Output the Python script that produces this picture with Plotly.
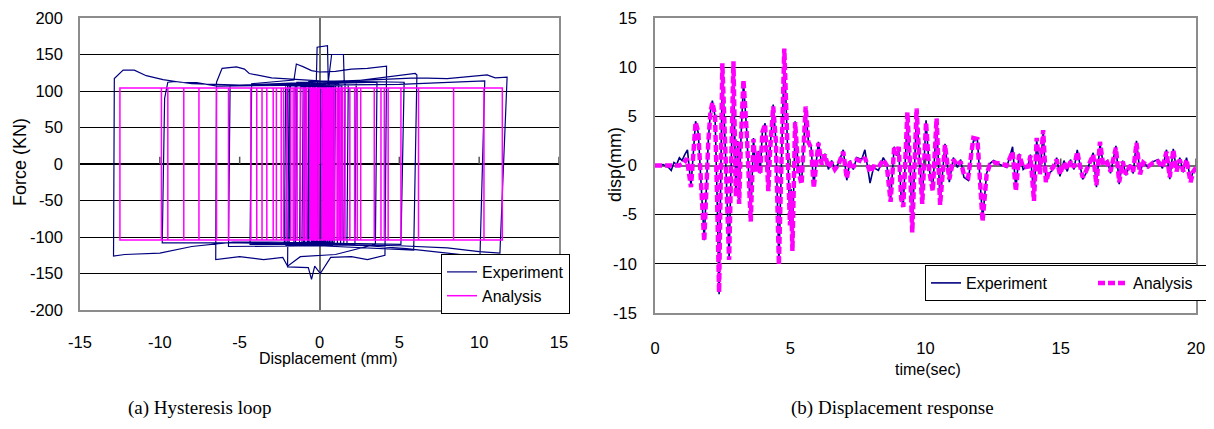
import plotly.graph_objects as go

NAVY = "#000080"
MAGENTA = "#FF00FF"
# the page body has an 8px margin, so the figure is drawn 16px smaller
PAGE_W, PAGE_H, BODY = 1214, 429, 8
W, H = PAGE_W - 2 * BODY, PAGE_H - 2 * BODY

# ---- (a) hysteresis loop -------------------------------------------------
# analysis: reversal displacements (mm), alternating max / min, yield force (kN)
ana_rev = [0.35, -0.45, 0.7, -0.9, 1.1, -1.4, 2.2, -2.05, 4.3, -6.45,
           3.85, -5.7, 6.2, -12.5, 10.3, -9.5, 11.45, -9.9, 8.4, -8.5,
           5.1, -7.55, 4.06, -4.3, 3.43, -3.3, 2.58, -3.93, 2.37, -2.7,
           1.9, -2.4, 1.6, -1.8, 1.35, -1.55, 1.15, -1.2, 0.95, -1.0,
           0.8, -0.8, 0.65, -0.6, 0.55, -0.5, 0.45, -0.4, 0.35, -0.3,
           0.25, -0.2, 0.6, -0.55, 0.15, -0.1, 0.5, -0.35, 0.3, -0.25,
           1.45, -3.6, 1.25, -2.9, 0.9, -2.25, 0.75, -1.65, 0.4, -0.05]
ana_fy = 104

# experiment: small central cycles (reversals + plateau force levels)
exp_core_rev = [0.4, -0.5, 0.75, -1.0, 1.2, -1.5, 2.3, -2.2, 1.8, -1.9,
                1.4, -1.6, 1.0, -1.25, 0.85, -0.95, 0.7, -0.75, 0.55, -0.65,
                0.45, -0.5, 0.35, -0.35, 0.2, -0.15, 0.6, -0.4, 0.1, -0.2,
                1.6, -1.1, 0.9, -0.7, 0.3, -2.1]
exp_core_lev = [105, 106, 108, 107, 110, 109, 112, 110, 108, 111,
                107, 109, 110, 108, 106, 112, 108, 110, 113, 109,
                107, 111, 109, 112, 106, 108, 110, 109, 107, 111,
                112, 110, 108, 112, 109, 111]

# experiment: large cycles, path vertices (mm, kN)
exp_big_d = [-2.0, 0.0, 2.0, 3.6, 3.5, 1.0, -1.2, -2.0, -2.3, -3.5,
             -5.0, -6.5, -6.45, -6.1, -5.2, -4.7, -4.4, -3.0, 0.0, 2.0,
             5.3, 5.1, 3.0, 0.0, -3.0, -5.4, -8.0, -10.0, -12.2, -12.9,
             -12.85, -12.3, -11.6, -10.85, -9.8, -8.7, -7.7, -6.4, -3.0, 0.0,
             5.0, 8.0, 10.35, 10.05, 8.0, 5.45, 3.0, 0.0, -5.0, -9.85,
             -9.7, -9.5, -9.0, -8.0, -5.0, 0.0, 4.0, 6.1, 8.0, 10.5,
             11.0, 11.75, 11.3, 10.0, 8.0, 5.0, 0.0, -4.35, -4.25, -1.6,
             -1.45, -1.0, -0.5, 0.0, 1.0, 2.0, 3.0, 4.2, 4.1, 3.0,
             2.0, 0.7, 0.05, -0.3, -0.5, -0.7, -2.0, -1.9, -0.2, -0.15,
             0.5, 0.55, 0.76, 1.5, 1.55, 6.0, 6.1, 5.9, 0.0, -5.7,
             -5.6, 0.0, 0.3]
exp_big_f = [108, 110, 111, 112, -110, -124, -127, -140, -128, -131,
             -127, -131, 112, 131, 133, 130, 124, 118, 114, 113,
             112, -110, -109, -108, -107, -107, -113, -122, -124, -126,
             117, 128.6, 128.6, 121, 115.7, 112, 111.5, 106.7, 107, 108,
             109, 112, 114, -127, -122, -116, -112, -110, -108, -108,
             90, 112, 113, 110, 108, 112, 116, 118, 117, 122,
             118, 119, -122, -120, -115, -112, -110, -110, 110, 115,
             137, 133, 128, 126, 127, 130, 131, 134, -125, -131,
             -127, -128, -150, -140, -158, -142, -141, 110, 112, 160,
             162, 112, 150, 150, 112, 124, 122, -118, -112, -113,
             108, 110, 0]

force_ticks = [-200, -150, -100, -50, 0, 50, 100, 150, 200]
disp_ticks = [-15, -10, -5, 0, 5, 10, 15]

# ---- (b) displacement response -------------------------------------------
ana_t = [0, 0.9, 1.05, 1.18, 1.33, 1.50, 1.60, 1.82, 1.97, 2.05,
         2.12, 2.22, 2.29, 2.37, 2.49, 2.61, 2.74, 2.90, 2.99, 3.06,
         3.11, 3.18, 3.27, 3.39, 3.54, 3.64, 3.72, 3.82, 3.89, 3.97,
         4.07, 4.19, 4.26, 4.37, 4.47, 4.58, 4.78, 4.88, 4.99, 5.03,
         5.08, 5.18, 5.30, 5.42, 5.57, 5.67, 5.77, 5.87, 6.04, 6.16,
         6.28, 6.41, 6.53, 6.65, 6.78, 6.96, 7.09, 7.21, 7.33, 7.46,
         7.64, 7.76, 7.95, 8.08, 8.26, 8.44, 8.57, 8.71, 8.84, 8.93,
         9.01, 9.10, 9.18, 9.33, 9.43, 9.51, 9.67, 9.77, 9.88, 10.02,
         10.14, 10.27, 10.41, 10.54, 10.72, 10.88, 11.03, 11.18, 11.30, 11.42,
         11.58, 11.77, 11.92, 12.11, 12.26, 12.38, 12.52, 12.75, 13.00, 13.22,
         13.34, 13.46, 13.61, 13.80, 13.88, 14.01, 14.11, 14.23, 14.35, 14.45,
         14.57, 14.72, 14.85, 14.97, 15.12, 15.24, 15.36, 15.49, 15.61, 15.71,
         15.81, 15.93, 16.08, 16.20, 16.32, 16.45, 16.57, 16.72, 16.84, 17.04,
         17.16, 17.29, 17.41, 17.56, 17.68, 17.80, 17.93, 18.05, 18.23, 18.42,
         18.60, 18.76, 18.91, 19.03, 19.16, 19.28, 19.40, 19.53, 19.65, 19.80,
         19.90, 20.0]
ana_d = [0, 0, 0.2, 0.7, -2.2, 4.4, 3.4, -7.7, 2.4, 5.4,
         6.4, 5.1, -2.6, -12.9, 10.4, 0, -9.6, 10.6, -3.2, 2.4,
         -3.9, 2.8, 8.7, 3.4, -5.7, 2.7, -0.6, 1.4, -0.9, 3.4,
         4.2, -2.6, 1.8, 6.0, 2.4, -10.1, 11.9, 3.4, -6.1, -2.6,
         -8.7, 4.4, -0.6, -1.9, 6.0, 2.4, 1.8, -2.3, 2.3, 0.1,
         1.1, -0.2, 0.3, -0.4, 0.1, 1.4, -1.3, 0.4, -0.2, 0.6,
         0.4, 0.8, -0.7, -0.1, -0.2, 0.6, 0.0, -3.7, 1.8, 1.1,
         1.9, -3.4, -4.2, 5.4, 0, -6.8, 5.8, 0.8, -3.9, 4.4,
         -0.6, -2.6, 4.8, -4.0, 2.1, -1.4, 0.6, 0, 0.4, -0.9,
         -1.2, 2.8, 2.7, -5.7, -0.9, 0.1, 0.3, 0.2, 0.0, 1.4,
         -2.6, 1.1, -0.2, -0.1, 1.0, -3.6, 2.8, -0.9, 3.6, -1.7,
         -0.6, -0.2, 0.6, -0.9, 0.3, -0.4, 0.4, -0.2, 1.4, 0,
         -1.2, -0.6, 0.4, 1.1, -2.0, 2.4, 0, 0.3, -0.6, 1.8,
         -1.7, 0.4, -0.9, 0, -0.6, 2.3, -0.9, 0.3, -0.1, 0.3,
         0.4, -0.2, 1.4, -1.2, 1.6, -0.6, 0.6, -0.6, 0.6, -1.7,
         -0.6, -0.2]

exp_t = [0, 0.3, 0.5, 0.6, 0.7, 0.8, 0.9, 1.0, 1.1, 1.2,
         1.33, 1.50, 1.60, 1.82, 1.97, 2.05, 2.12, 2.22, 2.29, 2.37,
         2.49, 2.61, 2.74, 2.90, 2.99, 3.06, 3.11, 3.18, 3.27, 3.39,
         3.54, 3.64, 3.72, 3.82, 3.89, 3.97, 4.07, 4.19, 4.26, 4.37,
         4.47, 4.58, 4.78, 4.88, 4.99, 5.03, 5.08, 5.18, 5.30, 5.42,
         5.57, 5.67, 5.77, 5.87, 6.04, 6.16, 6.28, 6.41, 6.53, 6.65,
         6.78, 6.96, 7.09, 7.21, 7.33, 7.46, 7.64, 7.76, 7.95, 8.08,
         8.26, 8.44, 8.57, 8.71, 8.84, 8.93, 9.01, 9.10, 9.18, 9.33,
         9.43, 9.51, 9.67, 9.77, 9.88, 10.02, 10.14, 10.27, 10.41, 10.54,
         10.72, 10.88, 11.03, 11.18, 11.30, 11.42, 11.58, 11.77, 11.92, 12.11,
         12.26, 12.38, 12.52, 12.75, 13.00, 13.22, 13.34, 13.46, 13.61, 13.80,
         13.88, 14.01, 14.11, 14.23, 14.35, 14.45, 14.57, 14.72, 14.85, 14.97,
         15.12, 15.24, 15.36, 15.49, 15.61, 15.71, 15.81, 15.93, 16.08, 16.20,
         16.32, 16.45, 16.57, 16.72, 16.84, 17.04, 17.16, 17.29, 17.41, 17.56,
         17.68, 17.80, 17.93, 18.05, 18.23, 18.42, 18.60, 18.76, 18.91, 19.03,
         19.16, 19.28, 19.40, 19.53, 19.65, 19.80, 19.90, 20.0]
exp_d = [0, 0.1, -0.2, -0.5, 0.3, 0.1, 0.8, 0.5, 1.1, 1.6,
         -2.1, 4.5, 3.3, -7.6, 2.5, 5.5, 6.6, 5.0, -2.5, -13.1,
         10.2, 0.2, -9.4, 10.4, -3.0, 2.5, -3.7, 2.9, 8.5, 3.5,
         -5.5, 2.8, -0.4, 1.5, -0.8, 3.5, 4.3, -2.4, 1.9, 6.2,
         2.5, -9.9, 11.5, 3.5, -5.9, -2.4, -8.5, 4.5, -0.4, -1.7,
         5.8, 2.5, 1.9, -2.1, 2.4, 0.2, 1.2, -0.4, 0.5, -0.3,
         0.2, 1.6, -1.5, 0.5, -0.4, 0.8, 0.6, 1.6, -1.8, -0.2,
         -0.5, 0.8, 0.1, -3.5, 1.9, 1.0, 1.6, -3.2, -4.0, 5.2,
         0.2, -6.6, 5.6, 0.9, -3.7, 4.6, -0.4, -2.4, 4.6, -3.8,
         2.2, -1.7, 0.8, -0.2, 0.6, -1.2, -1.5, 2.5, 2.6, -5.5,
         -0.8, 0.2, 0.5, 0.1, -0.2, 1.9, -2.4, 1.2, -0.4, 0.1,
         1.1, -3.4, 2.6, -0.8, 3.4, -1.5, -0.8, -0.4, 0.8, -1.1,
         0.5, -0.6, 0.6, -0.4, 1.6, 0.1, -1.4, -0.8, 0.5, 1.3,
         -2.2, 2.2, 0.2, 0.5, -0.8, 2.0, -1.9, 0.5, -1.0, 0.1,
         -0.8, 2.5, -0.8, 0.4, -0.2, 0.4, 0.6, -0.3, 1.6, -1.4,
         1.7, -0.5, 0.8, -0.7, 0.8, -1.5, -0.5, -0.3]

disp_resp_ticks = [-15, -10, -5, 0, 5, 10, 15]
time_ticks = [0, 5, 10, 15, 20]


def loop_from_reversals(rev, fy):
    """Rigid-plastic path through the given reversal displacements."""
    d, f = [0.0, 0.0], [0.0, fy]
    s = 1
    for r in rev:
        d += [r, r]
        f += [s * fy, -s * fy]
        s = -s
    return d, f


def exp_core_path(rev, lev, slant=0.08):
    d, f = [0.0], [0.0]
    s, prev = 1, 0.0
    for r, lv in zip(rev, lev):
        d += [prev + s * slant, r]
        f += [s * lv, s * lv]
        s, prev = -s, r
    return d, f


ana_loop_d, ana_loop_f = loop_from_reversals(ana_rev, ana_fy)
core_d, core_f = exp_core_path(exp_core_rev, exp_core_lev)
exp_loop_d = core_d + exp_big_d
exp_loop_f = core_f + exp_big_f

SANS = "Liberation Sans Narrow, Arial Narrow, Liberation Sans"
TICK_FONT = dict(family=SANS, size=16.5, color="black")
LBL_FONT = dict(family=SANS, size=16, color="black")

fig = go.Figure()
fig.add_trace(go.Scatter(x=exp_loop_d, y=exp_loop_f, mode="lines", name="Experiment",
                         line=dict(color=NAVY, width=1.2), xaxis="x", yaxis="y", legend="legend"))
fig.add_trace(go.Scatter(x=ana_loop_d, y=ana_loop_f, mode="lines", name="Analysis",
                         line=dict(color=MAGENTA, width=1.5), xaxis="x", yaxis="y", legend="legend"))
fig.add_trace(go.Scatter(x=exp_t, y=exp_d, mode="lines", name="Experiment",
                         line=dict(color=NAVY, width=1.6), xaxis="x2", yaxis="y2", legend="legend2"))
fig.add_trace(go.Scatter(x=ana_t, y=ana_d, mode="lines", name="Analysis",
                         line=dict(color=MAGENTA, width=4.5, dash="7px,3px"), xaxis="x2", yaxis="y2",
                         legend="legend2"))


# page pixel -> paper fraction
def px(x):
    return (x - BODY) / W


def py(y):
    return 1 - (y - BODY) / H


def labels(vals):
    # plain hyphen for negatives, like the original
    return [str(v) for v in vals]


frame = dict(showline=True, mirror=True, linecolor="#8c8c8c", linewidth=1.5, ticks="",
             tickfont=TICK_FONT, automargin=False, tickmode="array", ticklabeloverflow="allow")

fig.update_layout(
    width=W, height=H, margin=dict(l=0, r=0, t=0, b=0, autoexpand=False),
    paper_bgcolor="white", plot_bgcolor="white",
    xaxis=dict(domain=[px(80), px(559)], range=[-15, 15], tickvals=disp_ticks,
               ticktext=labels(disp_ticks), showgrid=False,
               zeroline=True, zerolinecolor="#6e6e6e", zerolinewidth=2, ticklabelstandoff=16,
               anchor="y", **frame),
    yaxis=dict(domain=[py(310), py(18)], range=[-200, 200], tickvals=force_ticks,
               ticktext=labels(force_ticks), showgrid=True,
               gridcolor="black", gridwidth=1, zeroline=True, zerolinecolor="black",
               zerolinewidth=1.5, ticklabelstandoff=12, anchor="x", **frame),
    xaxis2=dict(domain=[px(655), px(1196)], range=[0, 20], tickvals=time_ticks,
                ticktext=labels(time_ticks), showgrid=False,
                zeroline=False, ticklabelstandoff=19, anchor="y2", **frame),
    yaxis2=dict(domain=[py(313), py(18)], range=[-15, 15], tickvals=disp_resp_ticks,
                ticktext=labels(disp_resp_ticks), showgrid=True,
                gridcolor="black", gridwidth=1, zeroline=True, zerolinecolor="#707070",
                zerolinewidth=1.5, ticklabelstandoff=13, anchor="x2", **frame),
    legend=dict(x=px(441), y=py(254), xanchor="left", yanchor="top", bgcolor="white",
                bordercolor="black", borderwidth=1, font=LBL_FONT, itemwidth=30,
                tracegroupgap=0),
    legend2=dict(x=px(925), y=py(265), xanchor="left", yanchor="top", orientation="h",
                 bgcolor="white", bordercolor="black", borderwidth=1, font=LBL_FONT,
                 itemwidth=30, entrywidth=122, entrywidthmode="pixels"),
)

# small tick marks on the zero axes
for v in [-10, -5, 5, 10, 15]:
    fig.add_shape(type="line", xref="x", yref="y", x0=v, x1=v, y0=0, y1=10,
                  line=dict(color="#555555", width=1.5))
for v in [5, 10, 15, 20]:
    fig.add_shape(type="line", xref="x2", yref="y2", x0=v, x1=v, y0=0, y1=0.7,
                  line=dict(color="#555555", width=1.5))

annots = [
    dict(text="Force (KN)", x=px(20), y=py(162), textangle=-90, font=dict(LBL_FONT, size=18)),
    dict(text="Displacement (mm)", x=px(328), y=py(358), font=dict(LBL_FONT, size=16)),
    dict(text="disp(mm)", x=px(615), y=py(165), textangle=-90, font=dict(LBL_FONT, size=18)),
    dict(text="time(sec)", x=px(928), y=py(369), font=dict(LBL_FONT, size=16)),
    dict(text="(a) Hysteresis loop", x=px(200), y=py(408),
         font=dict(family="Liberation Serif, Times New Roman", size=19, color="black")),
    dict(text="(b) Displacement response", x=px(892), y=py(408),
         font=dict(family="Liberation Serif, Times New Roman", size=19, color="black")),
]
for a in annots:
    fig.add_annotation(xref="paper", yref="paper", showarrow=False, xanchor="center",
                       yanchor="middle", **a)

fig.write_html("out.html")
